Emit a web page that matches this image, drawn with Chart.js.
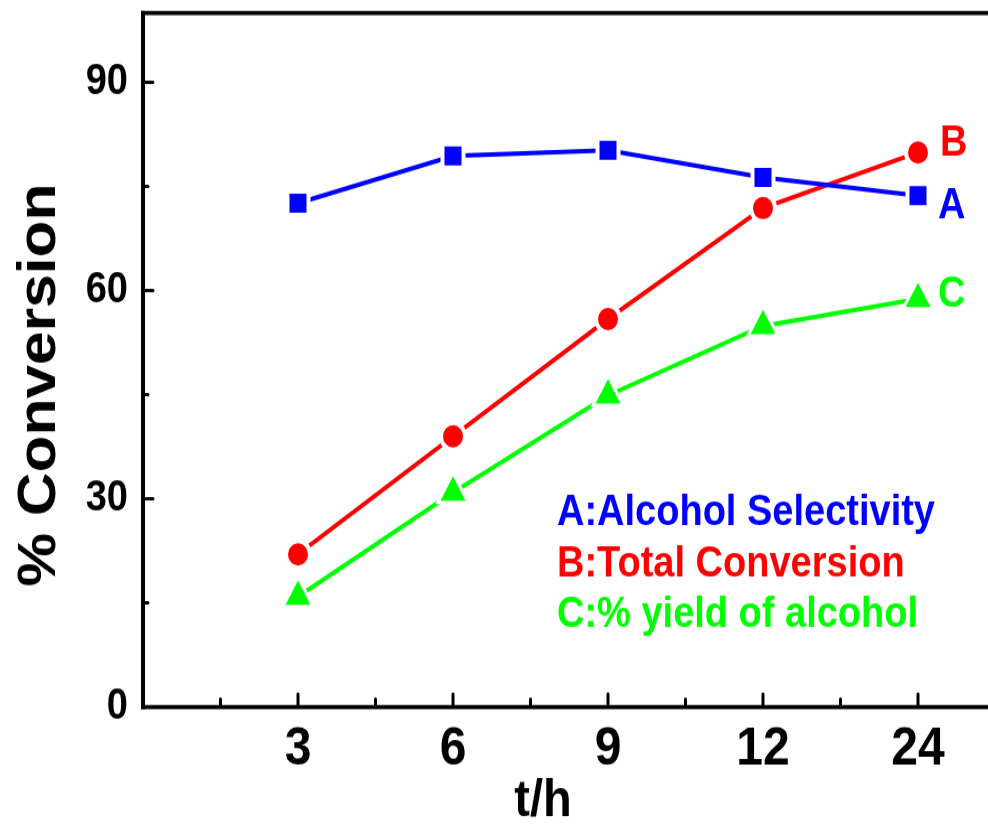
<!DOCTYPE html>
<html>
<head>
<meta charset="utf-8">
<script src="https://cdn.jsdelivr.net/npm/chart.js@4.4.1/dist/chart.umd.min.js"></script>
<style>
  html, body { margin: 0; padding: 0; background: #fff; overflow: hidden; }
</style>
</head>
<body>
<canvas id="c" width="1080" height="737" style="display:block;width:1080px;height:825px"></canvas>
<script>
// Reaction time (h) and measured percentages
const categories = ['3', '6', '9', '12', '24'];
const selectivity = [72.6, 79.4, 80.2, 76.3, 73.7];       // A: Alcohol Selectivity
const totalConversion = [22.0, 39.0, 55.9, 71.9, 79.9];   // B: Total Conversion
const alcoholYield = [15.9, 30.9, 44.9, 54.9, 58.8];      // C: % yield of alcohol
const yTickLabels = [0, 30, 60, 90];

const seriesNames = ['A:Alcohol Selectivity', 'B:Total Conversion', 'C:% yield of alcohol'];
const seriesTags = ['A', 'B', 'C'];

const BLUE = '#0000ff', RED = '#ff0000', GREEN = '#00ff00';
const FONT = '"Liberation Sans", Arial, Helvetica, sans-serif';

const toPoints = arr => arr.map((v, i) => ({ x: i + 1, y: v }));

// Frame, inward tick marks and text annotations
const decorations = {
  id: 'decorations',
  afterDraw(chart) {
    const { ctx, chartArea: a, scales: { x, y } } = chart;
    ctx.save();
    ctx.strokeStyle = '#000';
    ctx.lineCap = 'butt';
    // axis box
    ctx.lineWidth = 3.6;
    ctx.beginPath();
    ctx.moveTo(a.left - 2, a.top); ctx.lineTo(a.right, a.top);
    ctx.moveTo(a.left - 2, a.bottom); ctx.lineTo(a.right, a.bottom);
    ctx.stroke();
    ctx.lineWidth = 4;
    ctx.beginPath();
    ctx.moveTo(a.left, a.top - 1.8); ctx.lineTo(a.left, a.bottom + 1.8);
    ctx.moveTo(a.right, a.top - 1.8); ctx.lineTo(a.right, a.bottom + 1.8);
    ctx.stroke();

    // x ticks (pointing into the plot)
    ctx.lineWidth = 3;
    ctx.lineCap = 'round';
    ctx.beginPath();
    x.ticks.forEach(t => {
      if (t.value <= x.min || t.value >= x.max) return;
      const px = x.getPixelForValue(t.value);
      const len = Number.isInteger(t.value) ? 11.5 : 7;
      ctx.moveTo(px, a.bottom);
      ctx.lineTo(px, a.bottom - len);
    });
    // y ticks
    y.ticks.forEach(t => {
      if (t.value <= y.min) return;
      const py = y.getPixelForValue(t.value);
      const len = yTickLabels.includes(t.value) ? 10 : 5;
      ctx.moveTo(a.left, py);
      ctx.lineTo(a.left + len, py);
    });
    ctx.stroke();

    // axis titles
    ctx.fillStyle = '#000';
    ctx.font = `bold 47px ${FONT}`;
    ctx.textAlign = 'center';
    ctx.textBaseline = 'alphabetic';
    ctx.fillText('t/h', 543, 729);

    ctx.save();
    ctx.translate(55, 344);
    ctx.rotate(-Math.PI / 2);
    ctx.font = `bold 54px ${FONT}`;
    ctx.fillText('% Conversion', 0, 0);
    ctx.restore();

    // curve tags at the line ends
    ctx.font = `bold 38px ${FONT}`;
    ctx.textAlign = 'left';
    const tagPos = [[938, 195], [940, 139], [938, 274]];
    const colors = [BLUE, RED, GREEN];
    seriesTags.forEach((t, i) => {
      ctx.fillStyle = colors[i];
      ctx.fillText(t, tagPos[i][0], tagPos[i][1]);
    });

    // key text
    const keyBase = [469, 515, 560];
    seriesNames.forEach((n, i) => {
      ctx.fillStyle = colors[i];
      ctx.fillText(n, 557, keyBase[i]);
    });
    ctx.restore();
  }
};

const tickFont = size => ({ family: FONT, size, weight: 'bold' });
const noPad = s => { s.paddingTop = 0; s.paddingBottom = 0; s.paddingLeft = 0; s.paddingRight = 0; };

new Chart(document.getElementById('c'), {
  type: 'line',
  data: {
    datasets: [
      {
        label: seriesNames[0],
        data: toPoints(selectivity),
        borderColor: BLUE,
        backgroundColor: BLUE,
        borderWidth: 4,
        pointStyle: 'rect',
        pointRadius: 14.85,
        pointBorderWidth: 4,
        pointBorderColor: '#fff',
        pointBackgroundColor: BLUE
      },
      {
        label: seriesNames[1],
        data: toPoints(totalConversion),
        borderColor: RED,
        backgroundColor: RED,
        borderWidth: 4,
        pointStyle: 'circle',
        pointRadius: 12,
        pointBorderWidth: 4,
        pointBorderColor: '#fff',
        pointBackgroundColor: RED
      },
      {
        label: seriesNames[2],
        data: toPoints(alcoholYield),
        borderColor: GREEN,
        backgroundColor: GREEN,
        borderWidth: 4,
        pointStyle: 'triangle',
        pointRadius: 17.4,
        pointBorderWidth: 3,
        pointBorderColor: '#fff',
        pointBackgroundColor: GREEN
      }
    ]
  },
  options: {
    responsive: false,
    devicePixelRatio: 1,
    animation: false,
    events: [],
    layout: { autoPadding: false, padding: { top: 11.6, right: 7, left: 0, bottom: 0 } },
    plugins: { legend: { display: false }, tooltip: { enabled: false } },
    scales: {
      x: {
        type: 'linear',
        min: 0,
        max: 6,
        afterFit: s => { s.height = 105.4; noPad(s); },
        grid: { display: false, drawTicks: false },
        border: { display: false },
        ticks: {
          stepSize: 0.5,
          autoSkip: false,
          maxRotation: 0,
          padding: 9,
          color: '#000',
          font: tickFont(48),
          callback: v => (Number.isInteger(v) && v >= 1 && v <= categories.length) ? categories[v - 1] : ''
        }
      },
      y: {
        min: 0,
        max: 100,
        afterFit: s => { s.width = 143; noPad(s); },
        grid: { display: false, drawTicks: false },
        border: { display: false },
        ticks: {
          stepSize: 15,
          includeBounds: false,
          autoSkip: false,
          padding: 15,
          color: '#000',
          font: tickFont(38),
          callback: v => yTickLabels.includes(v) ? String(v) : ''
        }
      }
    }
  },
  plugins: [decorations]
});
</script>
</body>
</html>
